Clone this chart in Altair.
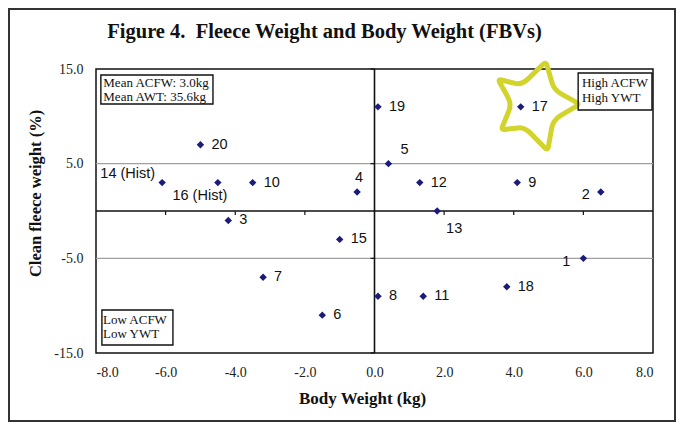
import altair as alt
import pandas as pd

# ---- data ----
labels = ["1", "2", "3", "4", "5", "6", "7", "8", "9", "10",
          "11", "12", "13", "14 (Hist)", "15", "16 (Hist)", "17", "18", "19", "20"]
body_weight = [6.0, 6.5, -4.2, -0.5, 0.4, -1.5, -3.2, 0.1, 4.1, -3.5,
               1.4, 1.3, 1.8, -6.1, -1.0, -4.5, 4.2, 3.8, 0.1, -5.0]
fleece_weight = [-5.0, 2.0, -1.0, 2.0, 5.0, -11.0, -7.0, -9.0, 3.0, 3.0,
                 -9.0, 3.0, 0.0, 3.0, -3.0, 3.0, 11.0, -8.0, 11.0, 7.0]

x_ticks = [-8, -6, -4, -2, 0, 2, 4, 6, 8]
y_ticks = [-15, -5, 5, 15]
grid_y = [-5, 5]
minor_x_ticks = [-6, -4, -2, 2, 4, 6]
minor_y_ticks = [-15, -5, 5, 15]

box_x1 = [-7.86, 5.85, -7.83]
box_x2 = [-4.64, 7.97, -5.79]
box_y1 = [14.36, 14.57, -10.45]
box_y2 = [11.3, 10.67, -14.15]
box_text = ["Mean ACFW: 3.0kg", "Mean AWT: 35.6kg", "High ACFW", "High YWT", "Low ACFW", "Low YWT"]
box_text_x = [-7.79, -7.79, 5.96, 5.96, -7.80, -7.80]
box_text_y = [13.5, 12.0, 13.5, 11.9, -11.5, -13.0]

star_x = [4.58]
star_y = [11.2]

title_text = "Figure 4.\u00a0 Fleece Weight and Body Weight (FBVs)"
x_title = "Body Weight (kg)"
y_title = "Clean fleece weight (%)"

# ---- tables ----
pts = pd.DataFrame({"label": labels, "bw": body_weight, "fw": fleece_weight})
boxes = pd.DataFrame({"x1": box_x1, "x2": box_x2, "y1": box_y1, "y2": box_y2})
btext = pd.DataFrame({"t": box_text, "x": box_text_x, "y": box_text_y})
grid = pd.DataFrame({"y": grid_y})
zero = pd.DataFrame({"z": [0]})
xt = pd.DataFrame({"v": minor_x_ticks, "z": [0] * len(minor_x_ticks)})
yt = pd.DataFrame({"v": minor_y_ticks, "z": [0] * len(minor_y_ticks)})
star = pd.DataFrame({"x": star_x, "y": star_y})
one = pd.DataFrame({"a": [1]})

xs = alt.Scale(domain=[-8, 8], nice=False, zero=False)
ys = alt.Scale(domain=[-15, 15], nice=False, zero=False)

SERIF = "Liberation Serif"
SANS = "Liberation Sans"
label_expr = "(datum.value < 0 ? '-' : '') + format(abs(datum.value), '.1f')"

x_axis = alt.Axis(values=x_ticks, labelExpr=label_expr, grid=False, ticks=False, tickSize=0,
                  domain=False, labelPadding=12, labelFont=SERIF, labelFontSize=14,
                  labelColor="#222", title=x_title, titleFont=SERIF, titleFontSize=17,
                  titleFontWeight="bold", titleColor="#111", titleX=266, titleY=50,
                  titleAlign="center", titleBaseline="alphabetic")
y_axis = alt.Axis(values=y_ticks, labelExpr=label_expr, grid=False, ticks=False, tickSize=0,
                  domain=False, labelPadding=13, labelFont=SERIF, labelFontSize=14,
                  labelColor="#222", title=y_title, titleFont=SERIF, titleFontSize=16.5,
                  titleFontWeight="bold", titleColor="#111", titleX=-61, titleY=124,
                  titleAlign="center", titleBaseline="middle")


def X(f):
    return alt.X(f, scale=xs, axis=x_axis)


def Y(f):
    return alt.Y(f, scale=ys, axis=y_axis)


frame = alt.Chart(one).mark_rect(fillOpacity=0, stroke="#333", strokeWidth=2).encode(
    x=alt.value(-87), x2=alt.value(579), y=alt.value(-60), y2=alt.value(352))

grid_l = alt.Chart(grid).mark_rule(color="#a0a0a0", strokeWidth=1.3).encode(y=Y("y:Q"))

zero_h = alt.Chart(zero).mark_rule(color="#111", strokeWidth=1.6).encode(y=Y("z:Q"))
zero_v = alt.Chart(zero).mark_rule(color="#111", strokeWidth=1.6).encode(x=X("z:Q"))

xticks_l = alt.Chart(xt).mark_rule(color="#111", strokeWidth=1.2, y2Offset=4).encode(
    x=X("v:Q"), y=Y("z:Q"), y2="z:Q")
yticks_l = alt.Chart(yt).mark_rule(color="#111", strokeWidth=1.2, x2Offset=-4).encode(
    y=Y("v:Q"), x=X("z:Q"), x2="z:Q")

# hand-drawn star outline (unit shape), corners rounded
star_pts = [(0.27, -0.98), (0.45, -0.34), (1.03, -0.02), (0.43, 0.34), (0.31, 1.03),
            (-0.21, 0.5), (-0.74, 0.56), (-0.5, -0.02), (-0.81, -0.58), (-0.27, -0.45)]


def rounded_path(vs, r_tip=0.14, r_in=0.28):
    n = len(vs)
    segs = []
    for i, v in enumerate(vs):
        p = vs[i - 1]
        nx = vs[(i + 1) % n]
        r = r_tip if i % 2 == 0 else r_in
        a = (v[0] + (p[0] - v[0]) * r, v[1] + (p[1] - v[1]) * r)
        b = (v[0] + (nx[0] - v[0]) * r, v[1] + (nx[1] - v[1]) * r)
        segs.append((a, v, b))
    d = "M%.3f,%.3f " % segs[0][2]
    for a, v, b in segs[1:] + segs[:1]:
        d += "L%.3f,%.3f Q%.3f,%.3f %.3f,%.3f " % (a[0], a[1], v[0], v[1], b[0], b[1])
    return d + "Z"


star_l = alt.Chart(star).mark_point(shape=rounded_path(star_pts), size=7900, filled=False,
                                    color="#d3d42b", strokeWidth=5, strokeJoin="round",
                                    opacity=1).encode(x=X("x:Q"), y=Y("y:Q"))

boxes_l = alt.Chart(boxes).mark_rect(fillOpacity=0, stroke="#111", strokeWidth=1.4).encode(
    x=X("x1:Q"), x2="x2:Q", y=Y("y1:Q"), y2="y2:Q")
btext_l = alt.Chart(btext).mark_text(align="left", baseline="middle", font=SERIF,
                                     fontSize=13, color="#111").encode(
    x=X("x:Q"), y=Y("y:Q"), text="t:N")

points_l = alt.Chart(pts).mark_point(shape="diamond", filled=True, size=55,
                                     color="#1b1b7c", opacity=1).encode(
    x=X("bw:Q"), y=Y("fw:Q"))

special = {
    "14 (Hist)": dict(align="right", dx=-7, dy=-9),
    "16 (Hist)": dict(align="center", dx=-18, dy=13),
    "4": dict(align="center", dx=2, dy=-14),
    "5": dict(align="center", dx=16, dy=-14),
    "2": dict(align="center", dx=-15, dy=3),
    "13": dict(align="center", dx=17, dy=18),
    "1": dict(align="center", dx=-17, dy=4),
}


def lab(mark_kw, flt):
    return alt.Chart(pts).transform_filter(flt).mark_text(
        baseline="middle", font=SANS, fontSize=14.5, color="#111", **mark_kw).encode(
        x=X("bw:Q"), y=Y("fw:Q"), text="label:N")


special_list = "[" + ",".join('"' + k + '"' for k in special) + "]"
label_layers = [lab(dict(align="left", dx=11), "indexof(" + special_list + ", datum.label) < 0")]
for k, kw in special.items():
    label_layers.append(lab(kw, alt.datum.label == k))

title_l = alt.Chart(one).mark_text(text=title_text, align="center", baseline="alphabetic",
                                   font=SERIF, fontSize=20.5, fontWeight="bold",
                                   color="#111").encode(
    x=alt.value(228.5), y=alt.value(-31))

chart = alt.layer(
    frame, grid_l, zero_h, zero_v, xticks_l, yticks_l, star_l, boxes_l, btext_l,
    points_l, *label_layers, title_l
).properties(
    width=557, height=284,
    autosize=alt.AutoSizeParams(type="none"),
    padding={"left": 88, "top": 61, "right": 23, "bottom": 69},
    background="white",
).configure_view(stroke="#111", strokeWidth=1.5)

chart.save("out.html", embed_options={"renderer": "svg", "actions": False})
